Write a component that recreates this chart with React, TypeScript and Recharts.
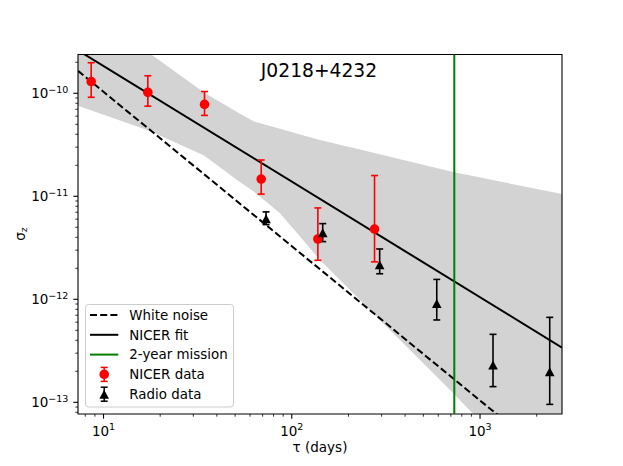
import React from "react";
import {
  ComposedChart,
  Area,
  Line,
  Scatter,
  ErrorBar,
  XAxis,
  YAxis,
  ReferenceLine,
  ReferenceArea,
  Legend,
} from "recharts";

const FONT = "DejaVu Sans, Liberation Sans, sans-serif";

// ---------- data ----------
const nicerTau = [8.6, 17.2, 34.4, 68.8, 137.6, 275.2];
const nicerSigma = [1.3e-10, 1.02e-10, 7.8e-11, 1.47e-11, 3.85e-12, 4.81e-12];
const nicerLow = [9.15e-11, 7.5e-11, 6.1e-11, 1.05e-11, 2.39e-12, 2.31e-12];
const nicerHigh = [1.98e-10, 1.48e-10, 1.04e-10, 2.25e-11, 7.71e-12, 1.59e-11];

const radioTau = [73, 146, 293, 589, 1172, 2345];
const radioSigma = [6.04e-12, 4.42e-12, 2.17e-12, 9.1e-13, 2.3e-13, 1.98e-13];
const radioLow = [5.31e-12, 3.63e-12, 1.77e-12, 6.3e-13, 1.42e-13, 9.55e-14];
const radioHigh = [7.06e-12, 5.43e-12, 3.08e-12, 1.56e-12, 4.57e-13, 6.68e-13];

const whiteTau = [7.32, 2725];
const whiteSigma = [1.65e-10, 2.32e-14];

const fitTau = [7.32, 2725];
const fitSigma = [2.61e-10, 3.4e-13];

const bandTau = [7.32, 17.65, 34.2, 51.2, 63.0, 86.6, 110.6, 141.2, 230.3, 718.7, 918, 2725];
const bandLow = [7.58e-11, 4.31e-11, 2.49e-11, 1.44e-11, 1.11e-11, 6.84e-12, 4.06e-12, 2.41e-12, 9.86e-13, 1.23e-13, 7.76e-14, 1.1e-14];
const bandHigh = [7.73e-10, 2.43e-10, 1.02e-10, 6.57e-11, 5.32e-11, 4.52e-11, 3.99e-11, 3.52e-11, 2.84e-11, 1.72e-11, 1.57e-11, 1.05e-11];

const missionTau = 730;

const xDomain = [7.32, 2725];
const yDomain = [7.7e-14, 2.38e-10];

const xMajorTicks = [10, 100, 1000];
const xMajorExp = ["1", "2", "3"];
const xMinorTicks = [8, 9, 20, 30, 40, 50, 60, 70, 80, 90, 200, 300, 400, 500, 600, 700, 800, 900, 2000];

const yMajorTicks = [1e-13, 1e-12, 1e-11, 1e-10];
const yMajorExp = ["\u221213", "\u221212", "\u221211", "\u221210"];
const yMinorTicks = [
  8e-14, 9e-14,
  2e-13, 3e-13, 4e-13, 5e-13, 6e-13, 7e-13, 8e-13, 9e-13,
  2e-12, 3e-12, 4e-12, 5e-12, 6e-12, 7e-12, 8e-12, 9e-12,
  2e-11, 3e-11, 4e-11, 5e-11, 6e-11, 7e-11, 8e-11, 9e-11,
  2e-10,
];

const legendLabels = ["White noise", "NICER fit", "2-year mission", "NICER data", "Radio data"];

// ---------- tables ----------
const nicerData = nicerTau.map((t, i) => ({
  tau: t,
  sigma: nicerSigma[i],
  err: [nicerSigma[i] - nicerLow[i], nicerHigh[i] - nicerSigma[i]],
}));
const radioData = radioTau.map((t, i) => ({
  tau: t,
  sigma: radioSigma[i],
  err: [radioSigma[i] - radioLow[i], radioHigh[i] - radioSigma[i]],
}));
const whiteData = whiteTau.map((t, i) => ({ tau: t, sigma: whiteSigma[i] }));
const fitData = fitTau.map((t, i) => ({ tau: t, sigma: fitSigma[i] }));
const bandData = bandTau.map((t, i) => ({ tau: t, band: [bandLow[i], bandHigh[i]] }));

const xTicks = [...xMajorTicks, ...xMinorTicks].sort((a, b) => a - b);
const yTicks = [...yMajorTicks, ...yMinorTicks].sort((a, b) => a - b);

const majorIndex = (list: number[], v: number) =>
  list.findIndex((t) => Math.abs(t - v) / t < 1e-6);

const DASH = "7 3.2";

// ---------- ticks ----------
const XTick = (props: any) => {
  const { x, y, payload } = props;
  const idx = majorIndex(xMajorTicks, payload.value);
  const major = idx >= 0;
  return (
    <g>
      <line x1={x} x2={x} y1={y} y2={y + (major ? 4.7 : 2.7)} stroke="#000" strokeWidth={major ? 1.1 : 0.8} />
      {major && (
        <text x={x} y={y + 21.5} textAnchor="middle" fontFamily={FONT} fontSize={13.5} fill="#000">
          <tspan>10</tspan>
          <tspan dy={-5.5} fontSize={9.5}>{xMajorExp[idx]}</tspan>
        </text>
      )}
    </g>
  );
};

const YTick = (props: any) => {
  const { x, y, payload } = props;
  const idx = majorIndex(yMajorTicks, payload.value);
  const major = idx >= 0;
  return (
    <g>
      <line x1={x} x2={x - (major ? 4.7 : 2.7)} y1={y} y2={y} stroke="#000" strokeWidth={major ? 1.1 : 0.8} />
      {major && (
        <text x={x - 9.6} y={y + 5} textAnchor="end" fontFamily={FONT} fontSize={13.5} fill="#000">
          <tspan>10</tspan>
          <tspan dy={-5.5} fontSize={9.5}>{yMajorExp[idx]}</tspan>
        </text>
      )}
    </g>
  );
};

// ---------- markers ----------
const CircleMarker = (props: any) => {
  const { cx, cy } = props;
  if (cx == null || cy == null) return null;
  return <circle cx={cx} cy={cy} r={4.8} fill="#ff0000" />;
};

const TriangleMarker = (props: any) => {
  const { cx, cy } = props;
  if (cx == null || cy == null) return null;
  const w = 4.8;
  const h = 4.5;
  return <path d={`M${cx},${cy - h}L${cx - w},${cy + h}L${cx + w},${cy + h}Z`} fill="#000" />;
};

// ---------- legend ----------
const LegendBox = () => {
  const rowY = [11, 30.8, 50.6, 70.4, 90.2];
  const x0 = 5;
  const x1 = 33.3;
  const xm = 19.2;
  const tx = 44.3;
  return (
    <svg width={149} height={104} style={{ display: "block", overflow: "visible" }}>
      <rect x={0.5} y={0.5} width={148} height={102.5} rx={3} ry={3} fill="#ffffff" fillOpacity={0.8} stroke="#cccccc" strokeWidth={1} />
      <line x1={x0} x2={x1} y1={rowY[0]} y2={rowY[0]} stroke="#000" strokeWidth={2} strokeDasharray={DASH} />
      <line x1={x0} x2={x1} y1={rowY[1]} y2={rowY[1]} stroke="#000" strokeWidth={2} />
      <line x1={x0} x2={x1} y1={rowY[2]} y2={rowY[2]} stroke="#008000" strokeWidth={2} />
      <g>
        <line x1={xm} x2={xm} y1={rowY[3] - 7} y2={rowY[3] + 7} stroke="#ff0000" strokeWidth={1.5} />
        <line x1={xm - 3.5} x2={xm + 3.5} y1={rowY[3] - 7} y2={rowY[3] - 7} stroke="#ff0000" strokeWidth={1.5} />
        <line x1={xm - 3.5} x2={xm + 3.5} y1={rowY[3] + 7} y2={rowY[3] + 7} stroke="#ff0000" strokeWidth={1.5} />
        <circle cx={xm} cy={rowY[3]} r={4.8} fill="#ff0000" />
      </g>
      <g>
        <line x1={xm} x2={xm} y1={rowY[4] - 7} y2={rowY[4] + 7} stroke="#000" strokeWidth={1.5} />
        <line x1={xm - 3.5} x2={xm + 3.5} y1={rowY[4] - 7} y2={rowY[4] - 7} stroke="#000" strokeWidth={1.5} />
        <line x1={xm - 3.5} x2={xm + 3.5} y1={rowY[4] + 7} y2={rowY[4] + 7} stroke="#000" strokeWidth={1.5} />
        <path d={`M${xm},${rowY[4] - 4.5}L${xm - 4.8},${rowY[4] + 4.5}L${xm + 4.8},${rowY[4] + 4.5}Z`} fill="#000" />
      </g>
      {legendLabels.map((l, i) => (
        <text key={l} x={tx} y={rowY[i] + 4.8} fontFamily={FONT} fontSize={13.4} fill="#000">
          {l}
        </text>
      ))}
    </svg>
  );
};

export default function App() {
  return (
    <div style={{ position: "relative", width: 615, height: 450 }}>
      <ComposedChart
        width={615}
        height={450}
        margin={{ top: 46.5, right: 61, bottom: 14, left: 10 }}
      >
        <XAxis
          dataKey="tau"
          type="number"
          scale="log"
          domain={xDomain}
          allowDataOverflow
          ticks={xTicks}
          interval={0}
          tick={<XTick />}
          tickLine={false}
          axisLine={false}
          tickSize={0}
          tickMargin={0}
          height={30}
        />
        <YAxis
          dataKey="sigma"
          type="number"
          scale="log"
          domain={yDomain}
          allowDataOverflow
          ticks={yTicks}
          interval={0}
          tick={<YTick />}
          tickLine={false}
          axisLine={false}
          tickSize={0}
          tickMargin={0}
          width={60}
        />
        <Area
          data={bandData}
          dataKey="band"
          type="linear"
          stroke="none"
          fill="#d3d3d3"
          fillOpacity={1}
          isAnimationActive={false}
          legendType="none"
        />
        <Line
          data={whiteData}
          dataKey="sigma"
          type="linear"
          stroke="#000"
          strokeWidth={2}
          strokeDasharray={DASH}
          dot={false}
          activeDot={false}
          isAnimationActive={false}
        />
        <Line
          data={fitData}
          dataKey="sigma"
          type="linear"
          stroke="#000"
          strokeWidth={2}
          dot={false}
          activeDot={false}
          isAnimationActive={false}
        />
        <ReferenceLine x={missionTau} stroke="#008000" strokeWidth={2} />
        <Scatter data={nicerData} dataKey="sigma" shape={<CircleMarker />} isAnimationActive={false}>
          <ErrorBar dataKey="err" direction="y" stroke="#ff0000" strokeWidth={1.6} width={3.5} isAnimationActive={false} />
        </Scatter>
        <Scatter data={radioData} dataKey="sigma" shape={<TriangleMarker />} isAnimationActive={false}>
          <ErrorBar dataKey="err" direction="y" stroke="#000" strokeWidth={1.6} width={3.5} isAnimationActive={false} />
        </Scatter>
        <ReferenceArea
          x1={xDomain[0]}
          x2={xDomain[1]}
          y1={yDomain[0]}
          y2={yDomain[1]}
          fill="none"
          fillOpacity={0}
          stroke="#000"
          strokeWidth={1.1}
          ifOverflow="visible"
        />
        <Legend
          layout="vertical"
          align="center"
          verticalAlign="middle"
          content={() => <LegendBox />}
          wrapperStyle={{ position: "absolute", left: 77, top: 296, width: 149, height: 104 }}
        />
      </ComposedChart>
      <svg
        width={615}
        height={450}
        style={{ position: "absolute", left: 0, top: 0, pointerEvents: "none" }}
      >
        <text x={311} y={68.7} textAnchor="middle" fontFamily={FONT} fontSize={18.7} fill="#000">
          J0218+4232
        </text>
        <text x={312} y={444} textAnchor="middle" fontFamily={FONT} fontSize={13.5} fill="#000">
          {"\u03c4 (days)"}
        </text>
        <g transform="translate(17, 226) rotate(-90)">
          <text x={0} y={0} textAnchor="middle" fontFamily={FONT} fontSize={13.5} fill="#000">
            <tspan>{"\u03c3"}</tspan>
            <tspan dy={2} fontSize={9.5}>z</tspan>
          </text>
        </g>
      </svg>
    </div>
  );
}
